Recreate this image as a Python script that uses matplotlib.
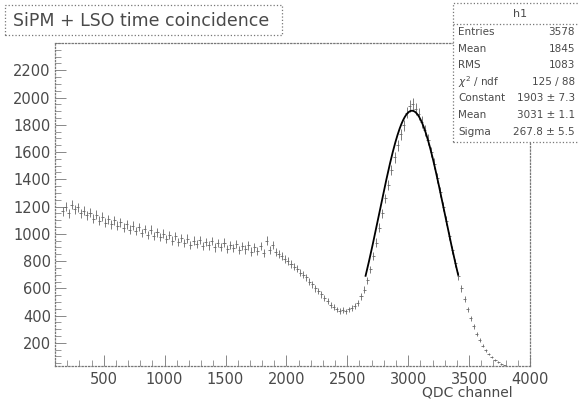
import numpy as np
import matplotlib
matplotlib.use("Agg")
import matplotlib.pyplot as plt
from matplotlib.ticker import MultipleLocator

# histogram: 25-channel bins starting at 150
bin_start = 150
bin_width = 25
counts = [
    1165, 1200, 1150, 1215,
    1180, 1195, 1150, 1170,
    1135, 1155, 1110, 1140,
    1095, 1125, 1080, 1105,
    1070, 1100, 1060, 1085,
    1045, 1070, 1030, 1060,
    1020, 1050, 1005, 1035,
    990, 1030, 985, 1010,
    975, 1000, 960, 990,
    950, 985, 940, 970,
    930, 965, 920, 950,
    925, 955, 910, 940,
    915, 945, 900, 930,
    905, 935, 890, 920,
    895, 925, 880, 910,
    885, 915, 870, 900,
    875, 910, 860, 950,
    880, 920, 865, 850,
    835, 815, 800, 780,
    760, 745, 715, 700,
    680, 650, 630, 600,
    580, 555, 530, 505,
    480, 460, 445, 435,
    440, 430, 445, 455,
    470, 495, 540, 590,
    660, 740, 835, 935,
    1045, 1150, 1260, 1360,
    1470, 1560, 1650, 1730,
    1795, 1890, 1935, 1950,
    1915, 1880, 1820, 1760,
    1690, 1600, 1515, 1410,
    1305, 1200, 1095, 985,
    880, 785, 690, 600,
    520, 445, 380, 320,
    265, 220, 180, 145,
    118, 95, 75, 58,
    45, 34, 25, 18,
]

# gaussian fit results
fit_const = 1903
fit_mean = 3031
fit_sigma = 267.8
fit_range = (2650, 3410)

stats_labels = ["Entries", "Mean", "RMS", "$\\chi^2$ / ndf", "Constant", "Mean", "Sigma"]
stats_values = ["3578", "1845", "1083", "125 / 88", "1903 ± 7.3", "3031 ± 1.1", "267.8 ± 5.5"]

x_ticks = [500, 1000, 1500, 2000, 2500, 3000, 3500, 4000]
y_ticks = [200, 400, 600, 800, 1000, 1200, 1400, 1600, 1800, 2000, 2200]

W, H = 578, 403
txt = "#4a4a4a"
fig = plt.figure(figsize=(W / 100, H / 100), dpi=100)
ax = fig.add_axes([55 / W, 1 - 366 / H, (530 - 55) / W, (366 - 43) / H])

counts = np.array(counts, dtype=float)
centers = bin_start + bin_width * (np.arange(len(counts)) + 0.5)
ax.errorbar(centers, counts, yerr=np.sqrt(counts), xerr=bin_width / 2,
            fmt="none", ecolor="#666666", elinewidth=0.6)

xf = np.linspace(fit_range[0], fit_range[1], 300)
ax.plot(xf, fit_const * np.exp(-0.5 * ((xf - fit_mean) / fit_sigma) ** 2),
        color="black", lw=1.3)

ax.set_xlim(100, 4000)
ax.set_ylim(30, 2400)
ax.set_xticks(x_ticks)
ax.set_yticks(y_ticks)
ax.xaxis.set_minor_locator(MultipleLocator(100))
ax.yaxis.set_minor_locator(MultipleLocator(50))
ax.tick_params(which="both", direction="in", colors="#888888", labelcolor=txt,
               labelsize=10.5, top=False, right=False)
ax.tick_params(which="major", length=8, width=0.7)
ax.tick_params(which="minor", length=4, width=0.6)
ax.tick_params(axis="x", pad=4)
ax.tick_params(axis="y", pad=3)
for s in ax.spines.values():
    s.set_linestyle(":")
    s.set_color("#777777")
    s.set_linewidth(0.9)

fig.text(513 / W, 1 - 393 / H, "QDC channel", ha="right", va="center",
         fontsize=10, color=txt)

# title box
fig.patches.append(plt.Rectangle((5 / W, 1 - 35 / H), 277 / W, 30 / H,
                                 transform=fig.transFigure, fill=False,
                                 ec="#777777", ls=":", lw=0.9))
fig.text(13 / W, 1 - 21 / H, "SiPM + LSO time coincidence", ha="left", va="center",
         fontsize=12.5, color=txt)

# stats box
fig.patches.append(plt.Rectangle((453 / W, 1 - 142 / H), 140 / W, 139 / H,
                                 transform=fig.transFigure, fill=True, fc="white",
                                 ec="#777777", ls=":", lw=0.9, zorder=5))
fig.add_artist(plt.Line2D([453 / W, 1], [1 - 24 / H, 1 - 24 / H], color="#777777",
                          ls=":", lw=0.9, zorder=6))
fig.text(520 / W, 1 - 14 / H, "h1", ha="center", va="center", fontsize=8,
         color=txt, zorder=7)
for i, (lab, val) in enumerate(zip(stats_labels, stats_values)):
    yy = 1 - (32 + i * 16.6) / H
    fig.text(458 / W, yy, lab, ha="left", va="center", fontsize=7.5, color=txt, zorder=7)
    fig.text(575 / W, yy, val, ha="right", va="center", fontsize=7.5, color=txt, zorder=7)

fig.savefig("out.png", dpi=100)
